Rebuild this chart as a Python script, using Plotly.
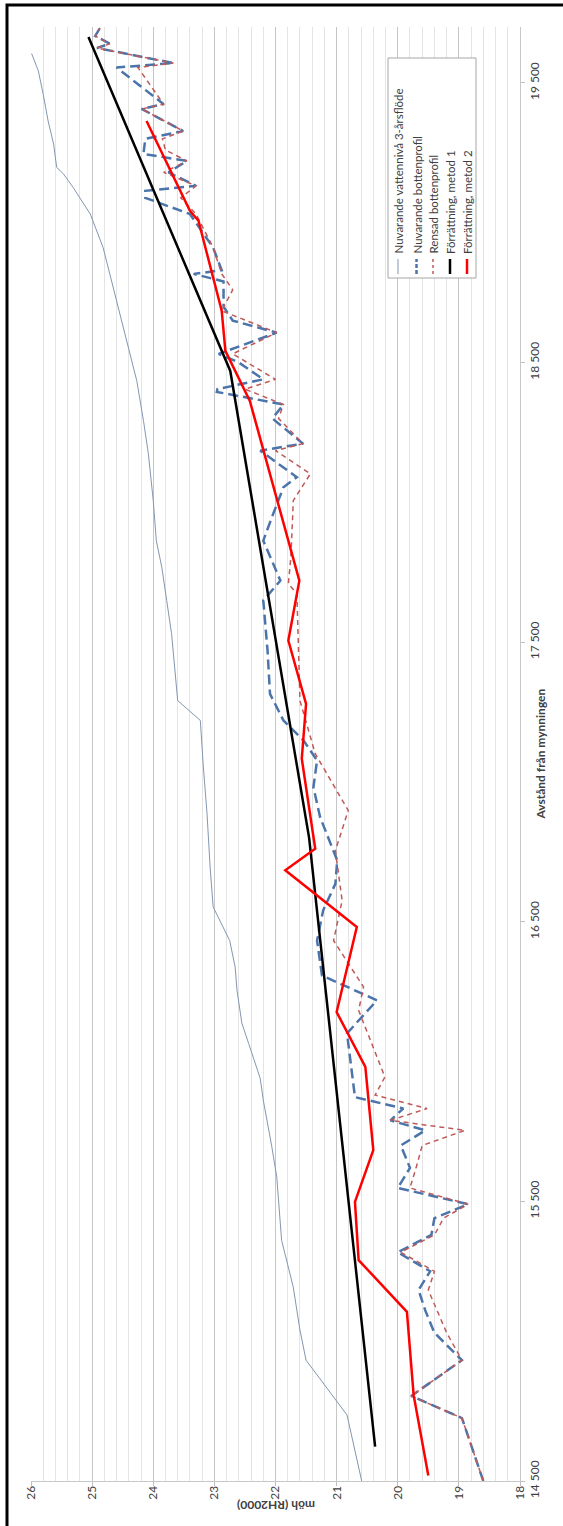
import plotly.graph_objects as go

# Nivåer (möh, RH2000) längs ån, avstånd från mynningen i meter
dist_vatten = [14500, 14736, 14932, 15040, 15194, 15361, 15588, 15695, 15862, 15940,
               16065, 16137, 16255, 16338, 16433, 16553, 16696, 16886, 17053, 17220,
               17291, 17339, 17530, 17649, 17768, 17863, 18006, 18174, 18292, 18435,
               18531, 18649, 18792, 18911, 19031, 19126, 19175, 19198, 19281, 19364,
               19459, 19543, 19605]
niva_vatten = [20.59, 20.83, 21.50, 21.60, 21.71, 21.90, 21.98, 22.06, 22.20, 22.25,
               22.44, 22.55, 22.63, 22.66, 22.75, 23.02, 23.07, 23.12, 23.18, 23.23,
               23.60, 23.62, 23.70, 23.78, 23.86, 23.95, 24.00, 24.08, 24.16, 24.27,
               24.38, 24.52, 24.68, 24.82, 25.03, 25.31, 25.47, 25.58, 25.63, 25.72,
               25.80, 25.88, 25.99]

dist_botten = [14500, 14725, 14804, 14932, 15030, 15110, 15183, 15250, 15318, 15380,
               15440, 15490, 15548, 15620, 15700, 15754, 15790, 15832, 15873, 16101,
               16219, 16308, 16433, 16541, 16636, 16719, 16874, 16981, 17077, 17148,
               17220, 17315, 17470, 17649, 17720, 17863, 17946, 18054, 18090, 18185,
               18210, 18300, 18350, 18395, 18405, 18440, 18500, 18531, 18607, 18650,
               18700, 18790, 18817, 18830, 18911, 19031, 19089, 19114, 19132, 19180,
               19221, 19246, 19300, 19328, 19407, 19424, 19555, 19571, 19625, 19640,
               19668, 19697]
niva_botten = [18.60, 18.95, 19.78, 18.95, 19.40, 19.55, 19.66, 19.47, 20.00, 19.45,
               19.40, 18.85, 20.00, 19.80, 19.95, 19.55, 20.12, 19.91, 20.70, 20.83,
               20.34, 21.24, 21.32, 21.22, 21.02, 20.99, 21.27, 21.38, 21.32, 21.54,
               21.87, 22.09, 22.13, 22.20, 21.92, 22.20, 22.06, 21.87, 21.65, 22.25,
               21.55, 22.05, 21.87, 22.96, 22.95, 22.20, 22.60, 22.93, 21.98, 22.70,
               22.85, 22.85, 23.34, 22.88, 23.02, 23.40, 24.13, 24.13, 23.30, 23.75,
               23.45, 24.16, 24.13, 23.51, 24.19, 23.83, 24.60, 23.67, 24.92, 24.71,
               24.95, 24.87]

dist_rensad = [14500, 14725, 14804, 14932, 15030, 15110, 15183, 15250, 15318, 15380,
               15440, 15490, 15548, 15620, 15700, 15754, 15790, 15832, 15880, 15945,
               16183, 16267, 16433, 16576, 16755, 16898, 17101, 17291, 17673, 17709,
               17800, 17946, 18006, 18102, 18185, 18210, 18300, 18350, 18405, 18440,
               18531, 18607, 18685, 18760, 18817, 18911, 19031, 19089, 19132, 19180,
               19221, 19260, 19300, 19328, 19407, 19424, 19555, 19571, 19625, 19640,
               19668, 19697]
niva_rensad = [18.60, 18.95, 19.78, 18.95, 19.20, 19.35, 19.50, 19.40, 19.95, 19.40,
               19.25, 18.85, 19.80, 19.70, 19.60, 18.90, 20.12, 19.52, 20.37, 20.21,
               20.64, 20.56, 21.05, 20.91, 21.02, 20.81, 21.35, 21.60, 21.65, 21.79,
               21.75, 21.72, 21.71, 21.43, 22.00, 21.55, 21.95, 21.87, 22.50, 22.00,
               22.70, 21.98, 22.88, 22.70, 22.88, 23.02, 23.30, 23.55, 23.30, 23.83,
               23.45, 23.80, 23.85, 23.51, 24.19, 23.83, 24.25, 23.67, 24.92, 24.71,
               24.95, 24.87]

dist_metod1 = [14623, 16800, 18470, 19664]
niva_metod1 = [20.37, 21.45, 22.74, 25.06]

dist_metod2 = [14520, 14807, 15105, 15290, 15498, 15683, 15981, 16177, 16481, 16684,
               16761, 17083, 17279, 17506, 17720, 18363, 18542, 18685, 19007, 19043,
               19364]
niva_metod2 = [19.50, 19.74, 19.85, 20.64, 20.70, 20.40, 20.53, 21.00, 20.67, 21.84,
               21.35, 21.57, 21.50, 21.79, 21.61, 22.42, 22.82, 22.88, 23.26, 23.40,
               24.11]

serie_namn = ["Nuvarande vattennivå 3-årsflöde", "Nuvarande bottenprofil",
              "Rensad bottenprofil", "Förrättning, metod 1", "Förrättning, metod 2"]
dist_ticks = [14500, 15500, 16500, 17500, 18500, 19500]

# Sidans mått och ritytans kanter i pixlar
W, H = 563, 1526
L, R, T, B = 31, 520, 27, 1481


def px(x):
    return (x - L) / (R - L)


def py(y):
    return (B - y) / (B - T)


stilar = [
    dict(color="#8496b0", width=1),
    dict(color="#4a74aa", width=2.5, dash="10px,5px"),
    dict(color="#bf5a58", width=1.5, dash="5px,4px"),
    dict(color="#000000", width=2.5),
    dict(color="#ff0000", width=2.5),
]
serier = [
    (dist_vatten, niva_vatten),
    (dist_botten, niva_botten),
    (dist_rensad, niva_rensad),
    (dist_metod1, niva_metod1),
    (dist_metod2, niva_metod2),
]

fig = go.Figure()
for (d, n), namn, stil in zip(serier, serie_namn, stilar):
    fig.add_trace(go.Scatter(x=n, y=d, mode="lines", name=namn, line=stil,
                             showlegend=False, hoverinfo="skip"))

font_fam = "Lato, 'Open Sans', sans-serif"
fig.update_layout(
    width=W, height=H, autosize=False,
    margin=dict(l=L, r=W - R, t=T, b=H - B, pad=0),
    paper_bgcolor="white", plot_bgcolor="white",
    separators=", ",
    font=dict(family=font_fam, color="#404040", size=12),
    showlegend=False,
    xaxis=dict(
        range=[26, 18], tickmode="linear", tick0=18, dtick=1,
        tickangle=-90, ticks="outside", ticklen=4, tickcolor="#bfbfbf",
        ticklabelstandoff=-5,
        showgrid=True, gridcolor="#c6c6c6", gridwidth=1,
        minor=dict(tick0=18, dtick=0.2, showgrid=True, gridcolor="#e4e4e4", gridwidth=1),
        showline=True, linecolor="#c8c8c8", linewidth=1, zeroline=False,
        tickfont=dict(size=12, color="#404040"),
    ),
    yaxis=dict(
        range=[14500, 19700], side="right", tickmode="array", tickvals=dist_ticks,
        tickformat=",d", tickangle=-90, ticks="outside", ticklen=4, tickcolor="#bfbfbf",
        showgrid=False, showline=True, linecolor="#c8c8c8", linewidth=1, zeroline=False,
        tickfont=dict(size=12, color="#404040"),
    ),
)

shapes = [
    # ram runt diagrammet
    dict(type="rect", xref="paper", yref="paper",
         x0=px(7), x1=px(620), y0=py(1600), y1=py(5),
         line=dict(color="black", width=3), fillcolor="rgba(0,0,0,0)", layer="above"),
    # teckenförklaringens ruta
    dict(type="rect", xref="paper", yref="paper",
         x0=px(388), x1=px(476), y0=py(278), y1=py(58),
         line=dict(color="#a6a6a6", width=1), fillcolor="white", layer="above"),
]

annotations = [
    dict(text="<b>möh (RH2000)</b>", x=px(276), y=py(1515), xref="paper", yref="paper",
         showarrow=False, textangle=180, font=dict(size=12, color="#404040")),
    dict(text="<b>Avstånd från mynningen</b>", x=px(549), y=py(754), xref="paper", yref="paper",
         showarrow=False, textangle=-90, font=dict(size=12, color="#404040")),
]

leg_x = [398, 416.5, 433, 450, 467]
for xi, namn, stil in zip(leg_x, serie_namn, stilar):
    s = dict(stil)
    if "dash" in s:
        s["dash"] = "4px,2px" if s["width"] > 2 else "3px,3px"
    shapes.append(dict(type="line", xref="paper", yref="paper",
                       x0=px(xi), x1=px(xi), y0=py(274), y1=py(259),
                       line=s, layer="above"))
    annotations.append(dict(text=namn, x=px(xi), y=py(256), xref="paper", yref="paper",
                            xanchor="center", yanchor="bottom", showarrow=False,
                            textangle=-90, font=dict(size=11.5, color="#404040")))

fig.update_layout(shapes=shapes, annotations=annotations)
fig.write_html("out.html")
